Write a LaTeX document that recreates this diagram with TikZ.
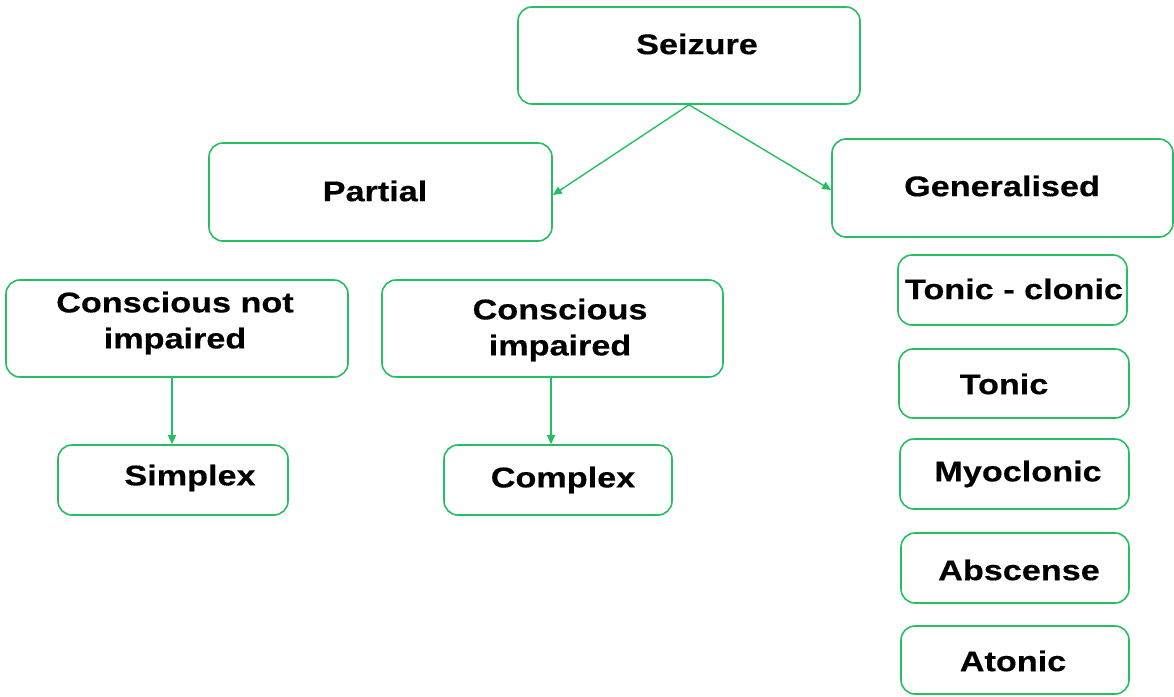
\documentclass[tikz,border=0pt]{standalone}
\usepackage{fontspec}
\setmainfont{Liberation Sans}[FakeStretch=1.2,FakeBold=0.4]
\usetikzlibrary{arrows.meta}
\definecolor{grn}{RGB}{38,190,98}
\tikzset{
  box/.style={draw=grn, line width=1.6pt, rounded corners=14pt, inner sep=0pt},
  lbl/.style={font=\fontsize{28.5}{36}\selectfont\bfseries, inner sep=0pt, align=center, text=black},
  arr/.style={draw=grn, line width=1.4pt, -{Triangle[length=9pt,width=8pt]}}
}
\newcommand{\bx}[5]{\node[box, minimum width=#4pt, minimum height=#5pt] (#1) at (#2,#3) {};}
\begin{document}
\begin{tikzpicture}[x=1pt,y=-1pt]
\useasboundingbox (0,0) rectangle (1174,696);
% boxes (name, center x, center y, w, h)
\bx{seizure}{689}{55.5}{342}{97}
\bx{partial}{380.5}{192}{343}{98}
\bx{gen}{1002.5}{188}{341}{98}
\bx{cni}{177}{328.5}{342}{97}
\bx{ci}{552.5}{328.5}{341}{97}
\bx{simplex}{173}{480}{230}{70}
\bx{complex}{558}{480}{228}{70}
\bx{tc}{1012.5}{290}{229}{70}
\bx{tonic}{1014}{383.5}{230}{69}
\bx{myo}{1014.5}{474}{229}{70}
\bx{abs}{1015}{568}{228}{70}
\bx{atonic}{1015}{660}{228}{68}
% texts
\node[lbl] (tseizure) at (697,44) {Seizure};
\node[lbl] (tpartial) at (375,191) {Partial};
\node[lbl] (tgen) at (1002,186) {Generalised};
\node[lbl] (tcni) at (175,323) {Conscious not\\impaired};
\node[lbl] (tci) at (560,330) {Conscious\\impaired};
\node[lbl] (tsimplex) at (190,478) {Simplex};
\node[lbl] (tcomplex) at (563,480) {Complex};
\node[lbl] (ttc) at (1014,289) {Tonic - clonic};
\node[lbl] (ttonic) at (1004,384) {Tonic};
\node[lbl] (tmyo) at (1018,474) {Myoclonic};
\node[lbl] (tabs) at (1019,570) {Abscense};
\node[lbl] (tatonic) at (1013,661) {Atonic};
% connectors
\draw[arr] (seizure.south) -- ([yshift=-3pt]partial.east);
\draw[arr] (seizure.south) -- ([yshift=-2pt]gen.west);
\draw[arr] ([xshift=-5pt]cni.south) -- ([xshift=-5pt]cni.south |- simplex.north);
\draw[arr] ([xshift=-1.5pt]ci.south) -- ([xshift=-1.5pt]ci.south |- complex.north);
\end{tikzpicture}
\end{document}
